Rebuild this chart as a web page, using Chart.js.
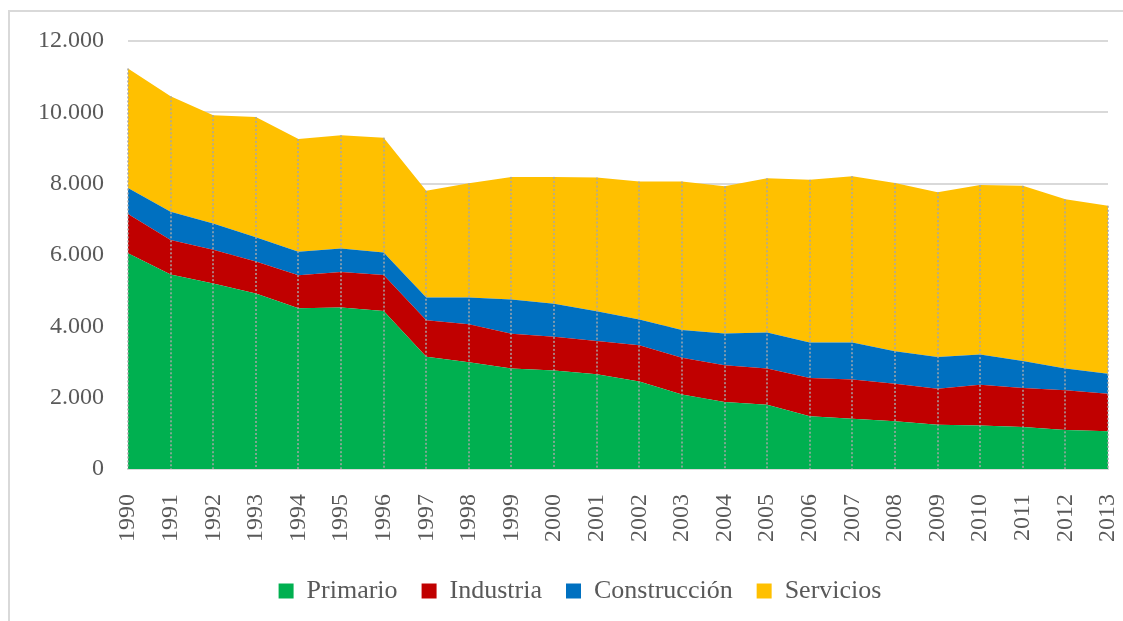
<!DOCTYPE html>
<html>
<head>
<meta charset="utf-8">
<script src="https://cdn.jsdelivr.net/npm/chart.js@4.4.0/dist/chart.umd.min.js"></script>
<style>
  body { margin: 0; background: #fff; }
  #wrap { position: relative; width: 1123px; height: 621px; }
  #frame { position: absolute; left: 8px; top: 10px; right: 0; bottom: 0;
           border-left: 2px solid #d9d9d9; border-top: 2px solid #d9d9d9; }
  #myChart { position: absolute; left: 0; top: 0; }
</style>
</head>
<body>
<div id="wrap">
  <div id="frame"></div>
  <canvas id="myChart" width="1123" height="621"></canvas>
</div>
<script>
// años y series
var years = ["1990","1991","1992","1993","1994","1995","1996","1997","1998","1999","2000","2001",
             "2002","2003","2004","2005","2006","2007","2008","2009","2010","2011","2012","2013"];
var primario = [6050, 5450, 5200, 4920, 4510, 4530, 4430, 3150, 2990, 2820, 2760, 2660,
                2450, 2090, 1880, 1800, 1480, 1410, 1340, 1240, 1220, 1180, 1090, 1060];
var industria = [1100, 970, 950, 900, 920, 990, 1010, 1020, 1070, 970, 950, 930,
                 1020, 1030, 1030, 1020, 1070, 1100, 1050, 1010, 1140, 1090, 1120, 1050];
var construccion = [730, 790, 730, 680, 660, 660, 630, 640, 750, 960, 920, 830,
                    720, 780, 890, 1010, 1000, 1040, 910, 890, 850, 760, 610, 560];
var servicios = [3350, 3240, 3040, 3370, 3160, 3180, 3220, 2990, 3200, 3440, 3560, 3750,
                 3870, 4160, 4130, 4320, 4560, 4660, 4720, 4620, 4750, 4910, 4740, 4710];
var yTicks = [0, 2000, 4000, 6000, 8000, 10000, 12000];

var fontFam = "'Liberation Serif', 'Times New Roman', serif";
var textColor = "#595959";

function area(label, data, color, fill) {
  return {
    label: label,
    data: data,
    backgroundColor: color,
    borderColor: color,
    borderWidth: 0,
    pointRadius: 0,
    fill: fill,
    tension: 0
  };
}

// líneas de unión (drop lines) punteadas
var dropLines = {
  id: "dropLines",
  afterDatasetsDraw: function(chart) {
    var ctx = chart.ctx;
    var meta = chart.getDatasetMeta(chart.data.datasets.length - 1);
    var bottom = chart.chartArea.bottom;
    ctx.save();
    ctx.strokeStyle = "#a6a6a6";
    ctx.lineWidth = 1.5;
    ctx.setLineDash([2, 2]);
    meta.data.forEach(function(pt) {
      ctx.beginPath();
      ctx.moveTo(Math.round(pt.x), pt.y);
      ctx.lineTo(Math.round(pt.x), bottom);
      ctx.stroke();
    });
    ctx.restore();
  }
};

// la leyenda está un poco desplazada a la derecha en el original
var shiftLegend = {
  id: "shiftLegend",
  afterLayout: function(chart) {
    if (chart.legend) {
      chart.legend.left += 26;
      chart.legend.right += 26;
    }
  }
};

var ctx = document.getElementById("myChart").getContext("2d");
var myChart = new Chart(ctx, {
  type: "line",
  data: {
    labels: years,
    datasets: [
      area("Primario", primario, "#00B050", "origin"),
      area("Industria", industria, "#C00000", "-1"),
      area("Construcción", construccion, "#0070C0", "-1"),
      area("Servicios", servicios, "#FFC000", "-1")
    ]
  },
  options: {
    responsive: false,
    animation: false,
    layout: { padding: { top: 41, right: 15, left: 0, bottom: 7 } },
    plugins: {
      tooltip: { enabled: false },
      legend: {
        position: "bottom",
        labels: {
          boxWidth: 15,
          boxHeight: 15,
          padding: 24,
          color: textColor,
          font: { family: fontFam, size: 26 }
        }
      }
    },
    scales: {
      x: {
        grid: { display: false, drawTicks: false },
        border: { display: true, color: "#d9d9d9", width: 2 },
        ticks: {
          color: textColor,
          font: { family: fontFam, size: 24 },
          minRotation: 90,
          maxRotation: 90,
          padding: 25,
          autoSkip: false
        },
        afterFit: function(scale) {
          scale.height = 85;
          scale.paddingLeft = 0;
          scale.paddingRight = 0;
        }
      },
      y: {
        stacked: true,
        min: 0,
        max: 12000,
        afterBuildTicks: function(scale) {
          scale.ticks = yTicks.map(function(v) { return { value: v }; });
        },
        grid: { color: "#d9d9d9", lineWidth: 2, drawTicks: false },
        border: { display: false },
        ticks: {
          color: textColor,
          font: { family: fontFam, size: 24 },
          padding: 24,
          callback: function(v) {
            return String(v).replace(/\B(?=(\d{3})+(?!\d))/g, ".");
          }
        },
        afterFit: function(scale) { scale.width = 128; }
      }
    }
  },
  plugins: [dropLines, shiftLegend]
});
</script>
</body>
</html>
